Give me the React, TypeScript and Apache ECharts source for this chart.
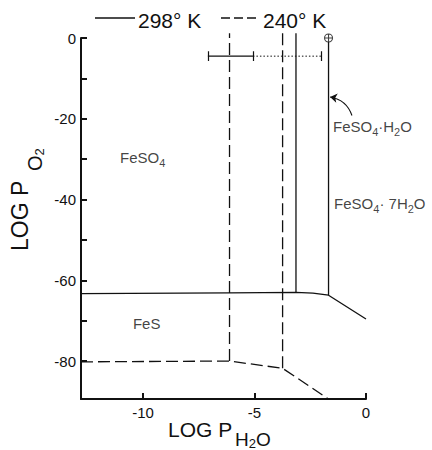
import React, { useEffect, useRef } from "react";
import * as echarts from "echarts";

const FONT = "'Liberation Sans', Arial, Helvetica, sans-serif";
const INK = "#111";

// log P(H2O) axis
const xMin = -12.78;
const xMax = 0;
const xTicks = [-10, -5, 0];

// log P(O2) axis
const yMin = -89.4;
const yMax = 0;
const yTicks = [0, -10, -20, -30, -40, -50, -60, -70, -80];
const yLabels = [0, -20, -40, -60, -80];

// 298 K phase boundaries, points are [log PH2O, log PO2]
const sulfide298 = [[-12.78, -63.3], [-6.12, -63.1], [-3.14, -63.0], [-2.38, -63.2], [-1.68, -63.7], [0, -69.6]];
const hepta298 = [[-3.14, -63.0], [-3.14, 1.2]];
const mono298 = [[-1.68, -63.7], [-1.68, -1.0]];

// 240 K phase boundaries
const sulfide240 = [[-12.78, -80.2], [-6.12, -80.0], [-3.74, -81.8], [-1.68, -89.4]];
const hepta240 = [[-6.12, -80.0], [-6.12, 1.2]];
const mono240 = [[-3.74, -81.8], [-3.74, 1.2]];

// observed water vapour range at the surface
const rangeLevel = -4.5;
const rangeSolid = [-7.09, -5.07];
const rangeDotted = [-5.07, -2.02];
const capHalf = 1.2;
const capEnds = [-7.09, -5.07, -2.02];

// present atmosphere point
const ambient = [[-1.68, 0]];

// stability field labels
const fieldNames = ["FeSO{s|4}", "FeS", "FeSO{s|4}· 7H{s|2}O", "FeSO{s|4}·H{s|2}O"];
const fieldAt = [[-11.03, -29.7], [-10.45, -70.8], [-1.43, -40.9], [-1.48, -22.0]];

// pointer from the monohydrate label to its boundary
const pointer = [[-0.63, -19.2], [-1.61, -14.6]];

const solid = { color: INK, width: 1.3, type: "solid" as const };
const dashed = { color: INK, width: 1.3, type: [12, 5] as any };

function lineSeries(data: number[][], style: any) {
  return {
    type: "line",
    data,
    showSymbol: false,
    symbol: "none",
    clip: false,
    lineStyle: style,
    silent: true,
  };
}

export default function App() {
  const ref = useRef<HTMLDivElement>(null);

  useEffect(() => {
    if (!ref.current) return;
    const chart = echarts.init(ref.current, undefined, { renderer: "svg" });

    const caps = capEnds.map((x) => ({
      coords: [
        [x, rangeLevel + capHalf],
        [x, rangeLevel - capHalf],
      ],
    }));

    const option: any = {
      animation: false,
      backgroundColor: "#fff",
      grid: { left: 81, right: 66, top: 38, bottom: 51, containLabel: false, outerBoundsMode: "none" },
      xAxis: {
        type: "value",
        min: xMin,
        max: xMax,
        splitLine: { show: false },
        axisLine: { show: true, onZero: false, lineStyle: { color: INK, width: 2 } },
        axisTick: { show: true, inside: true, length: 6, customValues: xTicks, lineStyle: { color: INK, width: 2 } },
        axisLabel: { customValues: xTicks, color: INK, fontSize: 15, fontFamily: FONT, margin: 6 },
      },
      yAxis: {
        type: "value",
        min: yMin,
        max: yMax,
        splitLine: { show: false },
        axisLine: { show: true, onZero: false, lineStyle: { color: INK, width: 2 } },
        axisTick: { show: true, inside: true, length: 6, customValues: yTicks, lineStyle: { color: INK, width: 2 } },
        axisLabel: { customValues: yLabels, color: INK, fontSize: 15, fontFamily: FONT, margin: 5 },
      },
      series: [
        lineSeries(sulfide298, solid),
        lineSeries(hepta298, solid),
        lineSeries(mono298, solid),
        lineSeries(sulfide240, dashed),
        lineSeries(hepta240, dashed),
        lineSeries(mono240, dashed),
        lineSeries(
          rangeSolid.map((x) => [x, rangeLevel]),
          { color: INK, width: 1.3 }
        ),
        lineSeries(
          rangeDotted.map((x) => [x, rangeLevel]),
          { color: INK, width: 1, type: [1.5, 2] }
        ),
        {
          type: "lines",
          coordinateSystem: "cartesian2d",
          silent: true,
          symbol: "none",
          lineStyle: { color: INK, width: 1.2, opacity: 1 },
          data: caps,
        },
        {
          type: "lines",
          coordinateSystem: "cartesian2d",
          silent: true,
          symbol: ["none", "arrow"],
          symbolSize: 7,
          lineStyle: { color: INK, width: 1.1, opacity: 1, curveness: -0.3 },
          itemStyle: { color: INK },
          data: [{ coords: pointer }],
        },
        {
          type: "scatter",
          silent: true,
          data: ambient,
          symbol: "path://M0,5 A5,5 0 1,0 10,5 A5,5 0 1,0 0,5 Z M5,0 L5,10 M0,5 L10,5",
          symbolSize: 8,
          itemStyle: { color: "rgba(0,0,0,0)", borderColor: INK, borderWidth: 1.1 },
          clip: false,
        },
        {
          type: "scatter",
          silent: true,
          symbolSize: 0,
          data: fieldAt.map((p, i) => ({ name: fieldNames[i], value: p })),
          label: {
            show: true,
            position: "right",
            distance: 0,
            formatter: (p: any) => p.name,
            color: INK,
            fontSize: 15,
            fontFamily: FONT,
            lineHeight: 22,
            rich: {
              s: { fontSize: 11, fontFamily: FONT, color: INK, lineHeight: 14, verticalAlign: "bottom" },
            },
          },
        },
      ],
      graphic: [
        // legend
        { type: "line", shape: { x1: 95, y1: 18, x2: 135, y2: 18 }, style: { stroke: INK, lineWidth: 1.3 } },
        {
          type: "text",
          x: 138,
          y: 20,
          style: { text: "298° K", fontSize: 21, fontFamily: FONT, fill: INK, verticalAlign: "middle" },
        },
        {
          type: "line",
          shape: { x1: 221, y1: 18, x2: 260, y2: 18 },
          style: { stroke: INK, lineWidth: 1.3, lineDash: [9, 4] },
        },
        {
          type: "text",
          x: 263,
          y: 20,
          style: { text: "240° K", fontSize: 21, fontFamily: FONT, fill: INK, verticalAlign: "middle" },
        },
        // x axis title
        {
          type: "text",
          x: 168,
          y: 429,
          style: { text: "LOG P", fontSize: 21, fontFamily: FONT, fill: INK, verticalAlign: "middle" },
        },
        {
          type: "text",
          x: 235,
          y: 439,
          style: {
            text: "{m|H}{n|2}{m|O}",
            verticalAlign: "middle",
            rich: {
              m: { fontSize: 19, fontFamily: FONT, fill: INK, lineHeight: 22 },
              n: { fontSize: 13, fontFamily: FONT, fill: INK, lineHeight: 16, verticalAlign: "bottom" },
            },
          },
        },
        // y axis title
        {
          type: "group",
          x: 20,
          y: 251,
          rotation: Math.PI / 2,
          children: [
            {
              type: "text",
              x: 0,
              y: 0,
              style: { text: "LOG P", fontSize: 23, fontFamily: FONT, fill: INK, verticalAlign: "middle" },
            },
            {
              type: "text",
              x: 80,
              y: 15,
              style: {
                text: "{m|O}{n|2}",
                verticalAlign: "middle",
                rich: {
                  m: { fontSize: 20, fontFamily: FONT, fill: INK, lineHeight: 22 },
                  n: { fontSize: 13, fontFamily: FONT, fill: INK, lineHeight: 14, verticalAlign: "bottom" },
                },
              },
            },
          ],
        },
      ],
    };

    chart.setOption(option);
    return () => chart.dispose();
  }, []);

  return <div ref={ref} style={{ width: 432, height: 450, position: "absolute", left: 0, top: 0 }} />;
}
